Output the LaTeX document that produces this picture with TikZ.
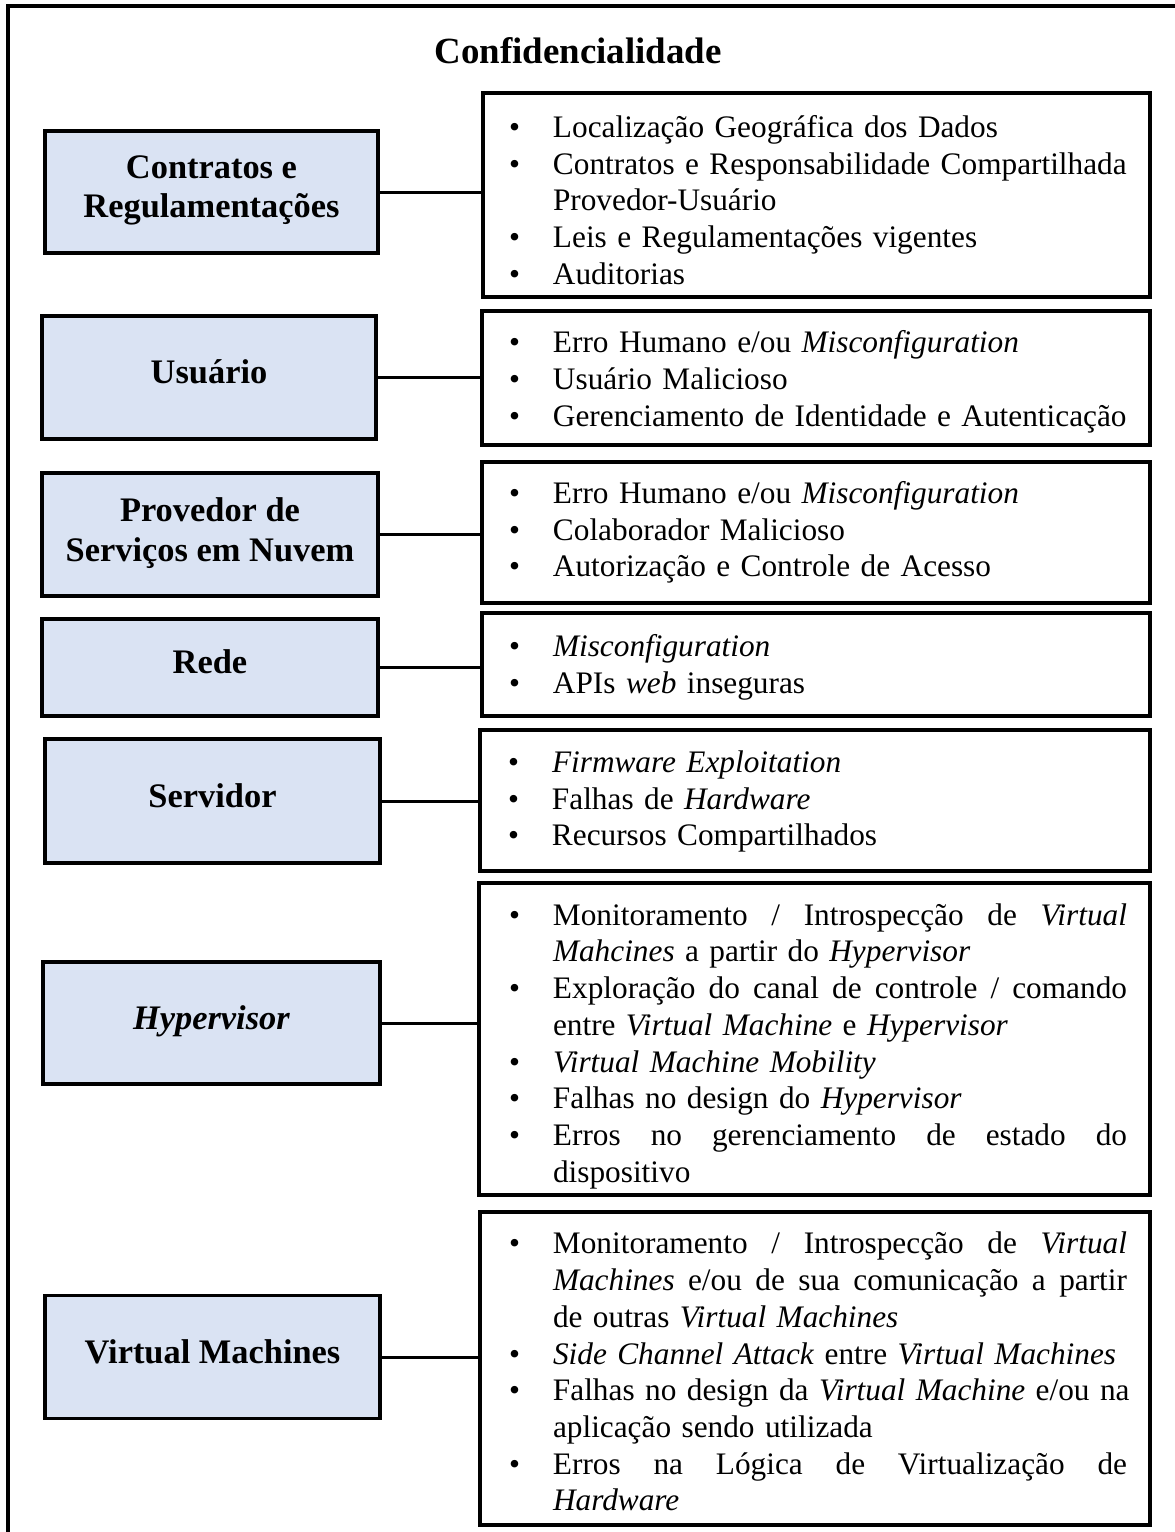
\documentclass[tikz,border=0pt]{standalone}
\usepackage{fontspec}
\setmainfont{Liberation Serif}
\definecolor{boxblue}{HTML}{DAE3F3}
\setlength{\parindent}{0pt}
\setlength{\parskip}{0pt}

% bullet list lines with explicit breaks; the "j" variants fill the full line width
% (their word gaps are marked with \hfill); \riskoff aligns the text column of all boxes
\newlength{\riskjw}\setlength{\riskjw}{574pt}
\newlength{\riskoff}\setlength{\riskoff}{0pt}
\newcommand{\riskbullet}{\hspace*{\dimexpr26pt+\riskoff\relax}\makebox[44pt][l]{\textbullet}}
\newcommand{\riskindent}{\hspace*{\dimexpr70pt+\riskoff\relax}}
\newcommand{\riskitem}[1]{\riskbullet\mbox{#1}\par}
\newcommand{\riskitemj}[1]{\riskbullet\hbox to\riskjw{#1}\par}
\newcommand{\riskcont}[1]{\riskindent\mbox{#1}\par}
\newcommand{\riskcontj}[1]{\riskindent\hbox to\riskjw{#1}\par}
% invisible struts that move a text block down (top) or up (bottom) inside its box
\newcommand{\toppad}[1]{\rule{0pt}{#1}}
\newcommand{\botpad}[1]{\rule[-#1]{0pt}{#1}}

\begin{document}
\begin{tikzpicture}[x=1pt,y=-1pt,
  frame/.style={line width=3.5pt},
  lbox/.style={draw, line width=3.5pt, fill=boxblue, inner sep=0pt, align=center,
    font=\bfseries\fontsize{34.4}{39.5}\selectfont},
  rbox/.style={draw, line width=3.5pt, fill=white, inner sep=0pt, align=left,
    font=\fontsize{31.3}{36.7}\selectfont},
  conn/.style={line width=3pt},
  heading/.style={font=\bfseries\fontsize{36.9}{44}\selectfont, inner sep=0pt, anchor=base}]

\useasboundingbox (0,0) rectangle (1175,1532);
\clip (0,0) rectangle (1175,1532);
\fill[white] (0,0) rectangle (1175,1532);

% outer frame (open at the right and at the bottom)
\draw[frame] (8,1545) -- (8,6) -- (1190,6);

\node[heading] (title) at (578,63) {Confidencialidade};

% categories
\node[lbox, minimum width=333pt, minimum height=122pt] (l1) at (211.5,192) {Contratos e\\Regulamentações\botpad{11pt}};
\node[lbox, minimum width=334pt, minimum height=123pt] (l2) at (209,377.5) {Usuário\botpad{11pt}};
\node[lbox, minimum width=336pt, minimum height=123pt] (l3) at (210,534.5) {Provedor de\\Serviços em Nuvem\botpad{10pt}};
\node[lbox, minimum width=336pt, minimum height=97pt] (l4) at (210,667.5) {Rede\botpad{11pt}};
\node[lbox, minimum width=335pt, minimum height=124pt] (l5) at (212.5,801) {Servidor\botpad{10pt}};
\node[lbox, minimum width=337pt, minimum height=122pt] (l6) at (211.5,1023) {\textit{Hypervisor}\botpad{11pt}};
\node[lbox, minimum width=335pt, minimum height=123pt] (l7) at (212.5,1357) {Virtual Machines\botpad{11pt}};

% threats per category
\node[rbox, text width=667pt, minimum height=204pt] (r1) at (816.5,195) {%
  \setlength{\riskoff}{0pt}%
  \riskitem{\toppad{32pt}Localização Geográfica dos Dados}
  \riskitem{Contratos e Responsabilidade Compartilhada}
  \riskcont{Provedor-Usuário}
  \riskitem{Leis e Regulamentações vigentes}
  \riskitem{Auditorias}};

\node[rbox, text width=668pt, minimum height=134pt] (r2) at (816,378) {%
  \setlength{\riskoff}{1pt}%
  \riskitem{\toppad{30pt}Erro Humano e/ou \textit{Misconfiguration}}
  \riskitem{Usuário Malicioso}
  \riskitem{Gerenciamento de Identidade e Autenticação}};

\node[rbox, text width=668pt, minimum height=141pt] (r3) at (816,532.5) {%
  \setlength{\riskoff}{1pt}%
  \riskitem{Erro Humano e/ou \textit{Misconfiguration}}
  \riskitem{Colaborador Malicioso}
  \riskitem{Autorização e Controle de Acesso}};

\node[rbox, text width=668pt, minimum height=103pt] (r4) at (816,664.5) {%
  \setlength{\riskoff}{1pt}%
  \riskitem{\toppad{28pt}\textit{Misconfiguration}}
  \riskitem{APIs \textit{web} inseguras}};

\node[rbox, text width=670pt, minimum height=141pt] (r5) at (815,800.5) {%
  \setlength{\riskoff}{2pt}%
  \riskitem{\toppad{24pt}\textit{Firmware Exploitation}}
  \riskitem{Falhas de \textit{Hardware}}
  \riskitem{Recursos Compartilhados}};

\node[rbox, text width=671pt, minimum height=312pt] (r6) at (814.5,1039) {%
  \setlength{\riskoff}{4pt}%
  \riskitemj{\toppad{36pt}Monitoramento \hfill / \hfill Introspecção \hfill de \hfill \textit{Virtual}}
  \riskcont{\textit{Mahcines} a partir do \textit{Hypervisor}}
  \riskitemj{Exploração \hfill do \hfill canal \hfill de \hfill controle \hfill / \hfill comando}
  \riskcont{entre \textit{Virtual Machine} e \textit{Hypervisor}}
  \riskitem{\textit{Virtual Machine Mobility}}
  \riskitem{Falhas no design do \textit{Hypervisor}}
  \riskitemj{Erros \hfill no \hfill gerenciamento \hfill de \hfill estado \hfill do}
  \riskcont{dispositivo}};

\node[rbox, text width=670pt, minimum height=313pt] (r7) at (815,1368.5) {%
  \setlength{\riskoff}{3pt}%
  \riskitemj{\toppad{28pt}Monitoramento \hfill / \hfill Introspecção \hfill de \hfill \textit{Virtual}}
  \riskcontj{\textit{Machines} \hfill e/ou \hfill de \hfill sua \hfill comunicação \hfill a \hfill partir}
  \riskcont{de outras \textit{Virtual Machines}}
  \riskitem{\textit{Side Channel Attack} entre \textit{Virtual Machines}}
  \riskitemj{Falhas \hfill no \hfill design \hfill da \hfill \textit{Virtual} \hfill \textit{Machine} \hfill e/ou \hfill na}
  \riskcont{aplicação sendo utilizada}
  \riskitemj{Erros \hfill na \hfill Lógica \hfill de \hfill Virtualização \hfill de}
  \riskcont{\textit{Hardware}}};

% connectors
\foreach \i in {1,...,7}
  \draw[conn] (l\i.east) -- (l\i.east -| r\i.west);

\end{tikzpicture}
\end{document}
